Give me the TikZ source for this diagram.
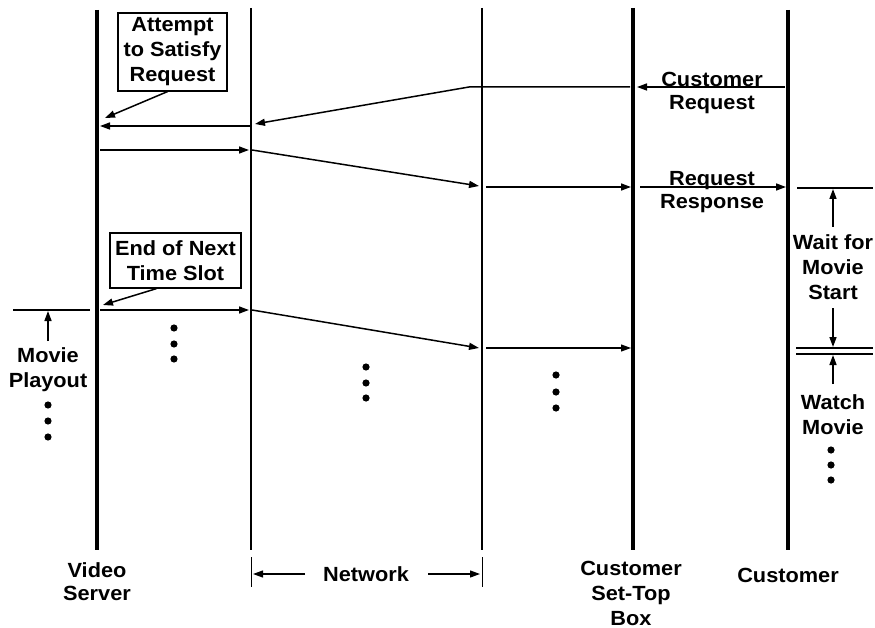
\documentclass[tikz,border=0pt]{standalone}
\usepackage{fontspec}
\setmainfont{Liberation Sans}[FakeStretch=1.06]
\usetikzlibrary{arrows.meta}
\begin{document}
\begin{tikzpicture}[x=1pt,y=-1pt,
  life/.style={line width=4pt},
  lifethin/.style={line width=1.8pt},
  msg/.style={line width=1.5pt,-{Triangle[length=10pt,width=7pt]}},
  plain/.style={line width=1.5pt},
  lbl/.style={font=\fontsize{20.5}{25}\selectfont\bfseries,align=center,inner sep=0pt},
  lbltight/.style={font=\fontsize{20.5}{23}\selectfont\bfseries,align=center,inner sep=0pt},
  boxed/.style={lbl,draw,line width=1.2pt}]
\useasboundingbox[fill=white] (0,0) rectangle (875,628);

% lifelines
\coordinate (vsT) at (97,10);  \coordinate (vsB) at (97,550);
\coordinate (nlT) at (251,8);  \coordinate (nlB) at (251,550);
\coordinate (nrT) at (482,8);  \coordinate (nrB) at (482,550);
\coordinate (stT) at (633,8);  \coordinate (stB) at (633,550);
\coordinate (cuT) at (788,10); \coordinate (cuB) at (788,550);
\draw[life] (vsT) -- (vsB);
\draw[lifethin] (nlT) -- (nlB);
\draw[lifethin] (nrT) -- (nrB);
\draw[life] (stT) -- (stB);
\draw[life] (cuT) -- (cuB);

% customer request
\coordinate (cr1) at (785,87); \coordinate (cr2) at (637,87);
\draw[msg] (cr1) -- (cr2);
\coordinate (cr3) at (630,87); \coordinate (cr4) at (469,87); \coordinate (cr5) at (255,124);
\draw[msg] (cr3) -- (cr4) -- (cr5);
\coordinate (a1) at (250,126); \coordinate (a2) at (100,126);
\draw[msg] (a1) -- (a2);
\coordinate (b1) at (100,150); \coordinate (b2) at (249,150);
\draw[msg] (b1) -- (b2);
\coordinate (c1) at (252,150); \coordinate (c2) at (479,186);
\draw[msg] (c1) -- (c2);
\coordinate (d1) at (486,187); \coordinate (d2) at (631,187);
\draw[msg] (d1) -- (d2);
\coordinate (e1) at (640,187); \coordinate (e2) at (786,187);
\draw[msg] (e1) -- (e2);

% next time slot
\coordinate (f0) at (13,310); \coordinate (f00) at (90,310);
\draw[plain] (f0) -- (f00);
\coordinate (f1) at (100,310); \coordinate (f2) at (249,310);
\draw[msg] (f1) -- (f2);
\coordinate (g1) at (252,310); \coordinate (g2) at (479,348);
\draw[msg] (g1) -- (g2);
\coordinate (h1) at (486,348); \coordinate (h2) at (631,348);
\draw[msg,line width=1.1pt] (h1) -- (h2);

% customer side marks
\coordinate (w1) at (797,188); \coordinate (w2) at (873,188);
\draw[plain] (w1) -- (w2);
\coordinate (w3) at (796,348); \coordinate (w4) at (873,348);
\coordinate (w5) at (796,354); \coordinate (w6) at (873,354);
\draw[plain] (w3) -- (w4);
\draw[plain] (w5) -- (w6);

% boxes
\node[boxed,minimum width=109pt,minimum height=78pt] (att) at (172.5,52) {Attempt\\to Satisfy\\Request};
\coordinate (attT) at (105,118);
\draw[msg] ([xshift=-5pt]att.south) -- (attT);
\node[boxed,minimum width=131pt,minimum height=55pt] (nxt) at (175.5,260.5) {End of Next\\Time Slot};
\coordinate (nxtT) at (103,305);
\draw[msg] ([xshift=-19pt]nxt.south) -- (nxtT);

% labels
\node[lbltight] (creq) at (712,93) {Customer\\Request};
\node[lbltight] (rresp) at (712,192) {Request\\Response};
\node[lbl] (wait) at (833,267) {Wait for\\Movie\\Start};
\coordinate (wa1) at (833,227); \coordinate (wa2) at (833,189);
\draw[msg] (wa1) -- (wa2);
\coordinate (wb1) at (833,308); \coordinate (wb2) at (833,347);
\draw[msg] (wb1) -- (wb2);
\coordinate (wc1) at (833,384); \coordinate (wc2) at (833,355);
\draw[msg] (wc1) -- (wc2);
\node[lbl] (watch) at (833,415) {Watch\\Movie};

\node[lbl] (play) at (48,370) {Movie\\Playout};
\coordinate (p1) at (48,341); \coordinate (p2) at (48,311);
\draw[msg] (p1) -- (p2);

% dots
\foreach \y in {328,344,359} \fill (174,\y) circle (3.6);
\foreach \y in {367,383,398} \fill (366,\y) circle (3.6);
\foreach \y in {375,392,408} \fill (556,\y) circle (3.6);
\foreach \y in {405,421,437} \fill (48,\y) circle (3.6);
\foreach \y in {450,465,480} \fill (831,\y) circle (3.6);

% bottom labels
\node[lbltight] (vsl) at (97,582) {Video\\Server};
\node[lbl] (netl) at (366,574) {Network};
\node[lbl] (stbl) at (631,593) {Customer\\Set-Top\\Box};
\node[lbl] (cul) at (788,575) {Customer};
\coordinate (n1) at (251,557); \coordinate (n2) at (251,587);
\coordinate (n3) at (482,557); \coordinate (n4) at (482,587);
\draw[line width=1pt] (n1) -- (n2);
\draw[line width=1pt] (n3) -- (n4);
\coordinate (na1) at (305,574); \coordinate (na2) at (253,574);
\coordinate (nb1) at (428,574); \coordinate (nb2) at (480,574);
\draw[msg,line width=1.2pt] (na1) -- (na2);
\draw[msg,line width=1.2pt] (nb1) -- (nb2);
\end{tikzpicture}
\end{document}
